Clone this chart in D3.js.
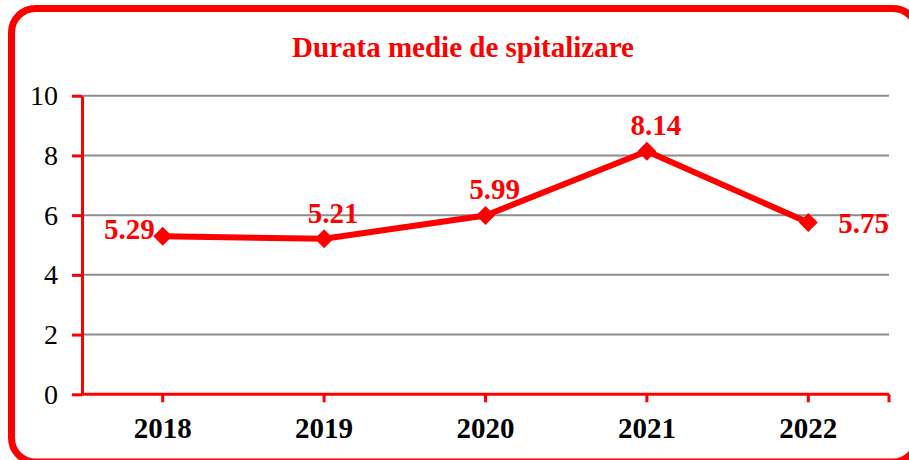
<!DOCTYPE html>
<html>
<head>
<meta charset="utf-8">
<script src="https://cdn.jsdelivr.net/npm/d3@7"></script>
<style>
  body { margin: 0; background: #fff; }
  text { font-family: "Liberation Serif", "Times New Roman", serif; }
</style>
</head>
<body>
<svg id="chart"></svg>
<script>
// values
const years = ["2018", "2019", "2020", "2021", "2022"];
const durata = [5.29, 5.21, 5.99, 8.14, 5.75];
const yTicks = [0, 2, 4, 6, 8, 10];
const title = "Durata medie de spitalizare";

const red = "#ff0000";
let width = 909;
let height = 460;
let margin = {top: 95.7, right: 20, bottom: 65.7, left: 82};
let innerRight = 889;

let svg = d3.select("#chart")
    .attr("width", width)
    .attr("height", height);

// rounded frame
svg.append("rect")
    .attr("x", 11.5)
    .attr("y", 8.5)
    .attr("width", 905.5)
    .attr("height", 453.5)
    .attr("rx", 24)
    .attr("ry", 24)
    .attr("fill", "#fff")
    .attr("stroke", red)
    .attr("stroke-width", 7);

svg.append("text")
    .attr("x", 463)
    .attr("y", 57)
    .attr("text-anchor", "middle")
    .attr("fill", red)
    .attr("font-size", 29)
    .attr("font-weight", "bold")
    .text(title);

let xScale = d3.scaleBand()
    .domain(years)
    .range([margin.left, innerRight]);

let yScale = d3.scaleLinear()
    .domain([0, 10])
    .range([height - margin.bottom, margin.top]);

// grid
svg.append("g")
    .selectAll("line")
    .data(yTicks.filter(d => d > 0))
    .join("line")
    .attr("x1", margin.left)
    .attr("x2", innerRight)
    .attr("y1", d => yScale(d))
    .attr("y2", d => yScale(d))
    .attr("stroke", "#8c8c8c")
    .attr("stroke-width", 2);

// axes
let x_axis = svg.append("g")
    .attr("transform", `translate(0, ${yScale(0)})`)
    .call(d3.axisBottom(xScale).tickSize(8).tickSizeOuter(0).tickPadding(15));
x_axis.append("line")
    .attr("x1", xScale.range()[1])
    .attr("x2", xScale.range()[1])
    .attr("y1", 0)
    .attr("y2", 8);
x_axis.select(".domain")
    .attr("d", `M${xScale.range()[0]},0H${xScale.range()[1]}`);
x_axis.selectAll("line, .domain")
    .attr("stroke", red)
    .attr("stroke-width", 3);
x_axis.selectAll("text")
    .attr("font-family", "'Liberation Serif', 'Times New Roman', serif")
    .attr("font-size", 29)
    .attr("font-weight", "bold")
    .attr("fill", "#000");

let y_axis = svg.append("g")
    .attr("transform", `translate(${margin.left}, 0)`)
    .call(d3.axisLeft(yScale).tickValues(yTicks).tickSize(10).tickSizeOuter(0).tickPadding(14));
y_axis.selectAll("line, .domain")
    .attr("stroke", red)
    .attr("stroke-width", 3);
y_axis.selectAll("text")
    .attr("font-family", "'Liberation Serif', 'Times New Roman', serif")
    .attr("font-size", 28)
    .attr("fill", "#000");

// series
let cx = (d, i) => xScale(years[i]) + xScale.bandwidth() / 2;

let line = d3.line()
    .x((d, i) => cx(d, i))
    .y(d => yScale(d));

svg.append("path")
    .datum(durata)
    .attr("d", line)
    .attr("fill", "none")
    .attr("stroke", red)
    .attr("stroke-width", 6)
    .attr("stroke-linejoin", "round");

svg.append("g")
    .selectAll("path")
    .data(durata)
    .join("path")
    .attr("d", d3.symbol(d3.symbolSquare, 180))
    .attr("transform", (d, i) => `translate(${cx(d, i)}, ${yScale(d)}) rotate(45)`)
    .attr("fill", red);

// value labels: first on the left, last on the right, the rest above
let n = durata.length;
svg.append("g")
    .selectAll("text")
    .data(durata)
    .join("text")
    .attr("x", (d, i) => i === 0 ? cx(d, i) - 8 : i === n - 1 ? cx(d, i) + 30 : cx(d, i) + 9)
    .attr("y", (d, i) => i === 0 ? yScale(d) + 3 : i === n - 1 ? yScale(d) + 10 : yScale(d) - 16)
    .attr("text-anchor", (d, i) => i === 0 ? "end" : i === n - 1 ? "start" : "middle")
    .attr("fill", red)
    .attr("font-size", 29)
    .attr("font-weight", "bold")
    .text(d => d.toFixed(2));
</script>
</body>
</html>
